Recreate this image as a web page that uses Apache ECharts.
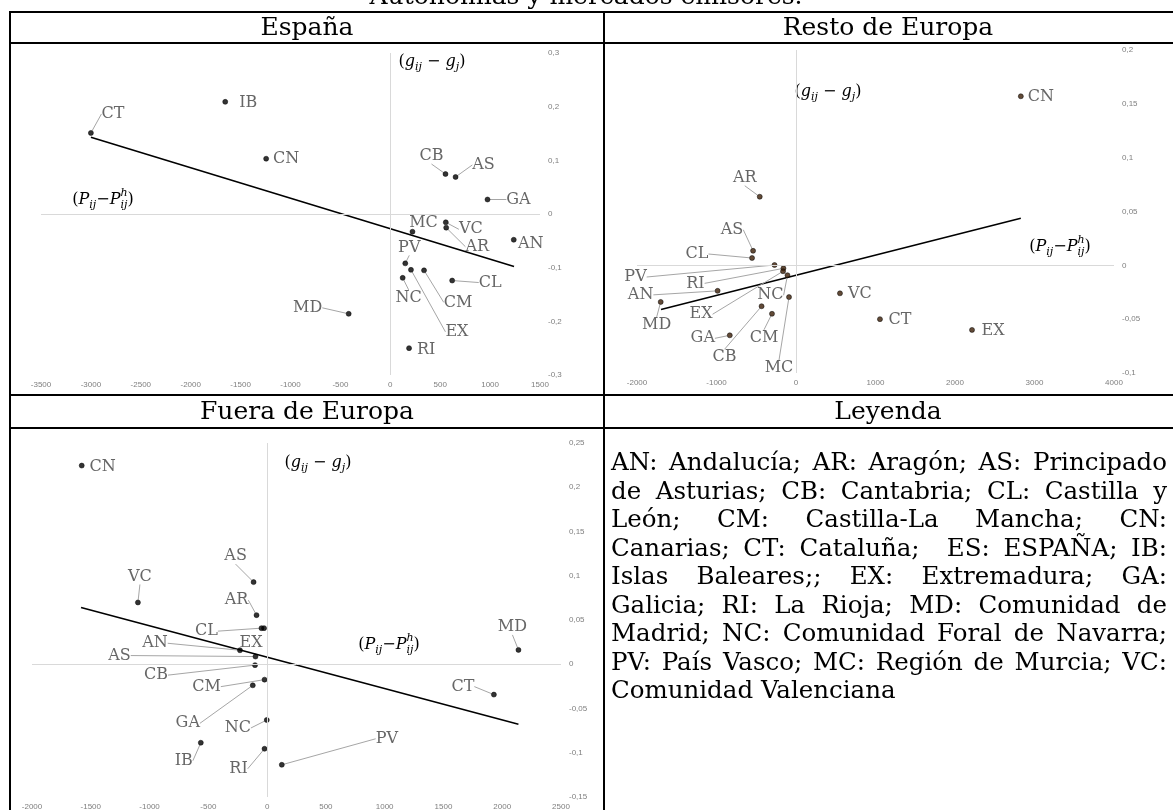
<!DOCTYPE html>
<html><head><meta charset="utf-8">
<script src="https://cdn.jsdelivr.net/npm/echarts@6/dist/echarts.min.js"></script>
<style>html,body{margin:0;padding:0;background:#fff;overflow:hidden}#c{width:1173px;height:810px}</style>
</head><body><div id="c"></div>
<script>
// ---------------- DATA ----------------
// España
const espCodes = ['CT','IB','CN','CB','AS','GA','VC','AR','MC','AN','PV','EX','CM','NC','CL','MD','RI'];
const espX = [-3000,-1654,-1244,553,654,974,556,560,222,1237,150,207,338,124,620,-417,188];
const espY = [0.151,0.209,0.103,0.0745,0.069,0.027,-0.0155,-0.0255,-0.033,-0.048,-0.092,-0.104,-0.105,-0.119,-0.124,-0.186,-0.25];
const espTrendX = [-3000,1240];
const espTrendY = [0.143,-0.098];
const espXTicks = [-3500,-3000,-2500,-2000,-1500,-1000,-500,0,500,1000,1500];
const espYTicks = [-0.3,-0.2,-0.1,0,0.1,0.2,0.3];

// Resto de Europa
const resCodes = ['CN','AR','AS','CL','PV','RI','EX','NC','AN','MD','MC','CB','CM','GA','VC','CT','EX'];
const resX = [2828,-456,-540,-553,-270,-158,-163,-107,-986,-1702,-88,-433,-302,-833,553,1056,2214];
const resY = [0.157,0.0637,0.0135,0.0068,0.0003,-0.0028,-0.0055,-0.0092,-0.0237,-0.034,-0.0295,-0.038,-0.045,-0.065,-0.026,-0.050,-0.060];
const resTrendX = [-1698,2828];
const resTrendY = [-0.041,0.0437];
const resXTicks = [-2000,-1000,0,1000,2000,3000,4000];
const resYTicks = [-0.1,-0.05,0,0.05,0.1,0.15,0.2];

// Fuera de Europa
const fueCodes = ['CN','AS','VC','AR','CL','EX','AN','AS','CB','CM','GA','NC','IB','RI','PV','MD','CT'];
const fueX = [-1577,-115,-1099,-90,-48,-26,-231,-99,-103,-22,-122,-3,-564,-22,125,2138,1929];
const fueY = [0.2245,0.0928,0.0698,0.0555,0.0408,0.0408,0.0158,0.0087,-0.001,-0.0174,-0.0238,-0.063,-0.0887,-0.0955,-0.1136,0.0162,-0.0343];
const fueTrendX = [-1583,2138];
const fueTrendY = [0.0642,-0.0679];
const fueXTicks = [-2000,-1500,-1000,-500,0,500,1000,1500,2000,2500];
const fueYTicks = [-0.15,-0.1,-0.05,0,0.05,0.1,0.15,0.2,0.25];

// Texts
const pageTitle = 'Autonomías y mercados emisores.';
const cellTitles = ['España','Resto de Europa','Fuera de Europa','Leyenda'];
const legendLines = [
  'AN: Andalucía; AR: Aragón; AS: Principado',
  'de Asturias; CB: Cantabria; CL: Castilla y',
  'León; CM: Castilla-La Mancha; CN:',
  'Canarias; CT: Cataluña;  ES: ESPAÑA; IB:',
  'Islas Baleares;; EX: Extremadura; GA:',
  'Galicia; RI: La Rioja; MD: Comunidad de',
  'Madrid; NC: Comunidad Foral de Navarra;',
  'PV: País Vasco; MC: Región de Murcia; VC:',
  'Comunidad Valenciana'
];

// ---------------- LAYOUT (label offsets in px: dx, dy, leader line) ----------------
const espOff = [[22,-19,1],[23,1,0],[20,0,0],[-14,-18,1],[28,-12,1],[31,0,1],[25,7,1],[31,19,1],[11,-9,0],[17,4,0],[4,-16,1],[46,62,1],[34,32,1],[6,20,1],[38,2,1],[-41,-6,1],[17,2,0]];
const resOff = [[20,1,0],[-15,-19,1],[-21,-21,1],[-55,-4,1],[-139,12,1],[-88,15,1],[-82,43,1],[-17,20,1],[-77,4,1],[-4,23,1],[-10,71,1],[-37,51,1],[-8,24,1],[-27,3,1],[20,1,0],[20,1,0],[21,1,0]];
const fueOff = [[21,1,0],[-18,-26,1],[2,-26,1],[-20,-15,1],[-55,3,1],[-13,15,0],[-85,-7,1],[-136,-1,1],[-99,10,1],[-58,7,1],[-65,38,1],[-29,8,1],[-17,18,1],[-26,20,1],[105,-26,1],[-6,-23,1],[-31,-8,1]];

const grids = [
  {left:41, top:53, width:499, height:322},
  {left:637, top:50, width:477, height:323},
  {left:32, top:443, width:529, height:354}
];

const SERIF = 'DejaVu Serif';
const fmt = v => String(+v.toFixed(4)).replace('.', ',');

function xAx(gi, t){
  return {type:'value', gridIndex:gi, min:t[0], max:t[t.length-1], interval:+(t[1]-t[0]).toFixed(6), position:'bottom',
    axisLine:{show:false}, axisTick:{show:false}, splitLine:{show:false},
    axisLabel:{color:'#7f7f7f', fontSize:8, fontFamily:'Liberation Sans', margin:6, formatter:fmt, showMinLabel:true, showMaxLabel:true}};
}
function yAx(gi, t){
  return {type:'value', gridIndex:gi, min:t[0], max:t[t.length-1], interval:+(t[1]-t[0]).toFixed(6), position:'right',
    axisLine:{show:false}, axisTick:{show:false}, splitLine:{show:false},
    axisLabel:{color:'#7f7f7f', fontSize:8, fontFamily:'Liberation Sans', margin:8, formatter:fmt, showMinLabel:true, showMaxLabel:true}};
}
function seriesFor(gi, codes, xs, ys, tx, ty, off, dotColor){
  return [
    {type:'line', xAxisIndex:gi, yAxisIndex:gi, data:[], silent:true, z:1,
      markLine:{silent:true, symbol:'none', animation:false, label:{show:false},
        lineStyle:{color:'#d9d9d9', width:1, type:'solid'}, data:[{xAxis:0},{yAxis:0}]}},
    {type:'line', xAxisIndex:gi, yAxisIndex:gi, z:2, silent:true, symbol:'none',
      data: tx.map((x,i)=>[x, ty[i]]), lineStyle:{color:'#000', width:1.6}},
    {type:'scatter', xAxisIndex:gi, yAxisIndex:gi, z:3, symbolSize:5,
      itemStyle:{color:dotColor, borderColor:'#000', borderWidth:0.6},
      data: xs.map((x,i)=>({value:[x, ys[i]], labelLine:{show: !!off[i][2]}})),
      label:{show:true, position:'inside', formatter:p=>codes[p.dataIndex], color:'#404040',
        fontSize:16, fontFamily:SERIF, textBorderWidth:0},
      labelLayout: p => ({dx: off[p.dataIndex][0], dy: off[p.dataIndex][1]}),
      labelLine:{show:true, length2:0, lineStyle:{color:'#a6a6a6', width:1}}
    }
  ];
}

// ---------- graphic helpers ----------
const mctx = document.createElement('canvas').getContext('2d');
function tw(text, font){ mctx.font = font; return mctx.measureText(text).width; }

const graphic = [];
function line(x1,y1,x2,y2,w){ graphic.push({type:'line', shape:{x1,y1,x2,y2}, style:{stroke:'#000', lineWidth:w||2}, silent:true}); }
function txt(x,y,text,size,opts){
  graphic.push(Object.assign({type:'text', x, y, silent:true,
    style:Object.assign({text, fill:'#000', fontSize:size, fontFamily:SERIF, align:'center', verticalAlign:'middle'}, opts||{})}));
}

// table borders
line(9,12,1173,12); line(9,43,1173,43); line(9,395,1173,395); line(9,428,1173,428);
line(10,11,10,810); line(604,11,604,810);

// page title (cut by the top edge) and cell headers
txt(586,-3,pageTitle,25);
txt(307,28,cellTitles[0],25); txt(888,28,cellTitles[1],25);
txt(307,412,cellTitles[2],25); txt(888,412,cellTitles[3],25);

// legend paragraph (justified)
(function(){
  const size = 24.5, font = size + 'px "' + SERIF + '"';
  const L = 611, R = 1167, top = 464, step = 28.5;
  const spW = tw(' ', font);
  legendLines.forEach((ln, i) => {
    const words = ln.split(' ');
    const ww = words.map(w => tw(w, font));
    const nat = ww.reduce((a,b)=>a+b,0) + spW*(words.length-1);
    const last = i === legendLines.length-1;
    const gap = last ? spW : spW + (R-L-nat)/(words.length-1);
    let x = L;
    words.forEach((w,k) => {
      if (w) txt(x, top + i*step, w, size, {align:'left'});
      x += ww[k] + gap;
    });
  });
})();

// math axis captions
function mathLabel(cx, cy, parts){
  const fN = '16px "'+SERIF+'"', fI = 'italic 16px "'+SERIF+'"', fS = 'italic 11px "'+SERIF+'"';
  let widths = parts.map(p => p[1]==='sub' ? Math.max(tw(p[0], fS), p[2]?tw(p[2], fS):0) : tw(p[0], p[1]==='i'?fI:fN));
  const total = widths.reduce((a,b)=>a+b,0);
  let x = cx - total/2;
  parts.forEach((p,k) => {
    if (p[1]==='sub'){
      txt(x, cy+5, p[0], 11, {align:'left', fontStyle:'italic', fill:'#000'});
      if (p[2]) txt(x, cy-7, p[2], 11, {align:'left', fontStyle:'italic', fill:'#000'});
    } else {
      txt(x, cy, p[0], 16, {align:'left', fontStyle: p[1]==='i'?'italic':'normal', fill:'#000'});
    }
    x += widths[k];
  });
}
const gParts = [['(','n'],['g','i'],['ij','sub'],[' − ','n'],['g','i'],['j','sub'],[')','n']];
const pParts = [['(','n'],['P','i'],['ij','sub'],['−','n'],['P','i'],['ij','sub','h'],[')','n']];
mathLabel(432,62,gParts);  mathLabel(103,200,pParts);
mathLabel(828,92,gParts);  mathLabel(1060,247,pParts);
mathLabel(318,463,gParts); mathLabel(389,645,pParts);

const chart = echarts.init(document.getElementById('c'), null, {renderer:'canvas'});
chart.setOption({
  animation:false,
  backgroundColor:'#fff',
  grid: grids.map(g => Object.assign({containLabel:false, outerBoundsMode:'none'}, g)),
  xAxis:[xAx(0,espXTicks), xAx(1,resXTicks), xAx(2,fueXTicks)],
  yAxis:[yAx(0,espYTicks), yAx(1,resYTicks), yAx(2,fueYTicks)],
  series:[
    ...seriesFor(0, espCodes, espX, espY, espTrendX, espTrendY, espOff, '#000'),
    ...seriesFor(1, resCodes, resX, resY, resTrendX, resTrendY, resOff, '#3b1d05'),
    ...seriesFor(2, fueCodes, fueX, fueY, fueTrendX, fueTrendY, fueOff, '#000')
  ],
  graphic: graphic
});
</script></body></html>
